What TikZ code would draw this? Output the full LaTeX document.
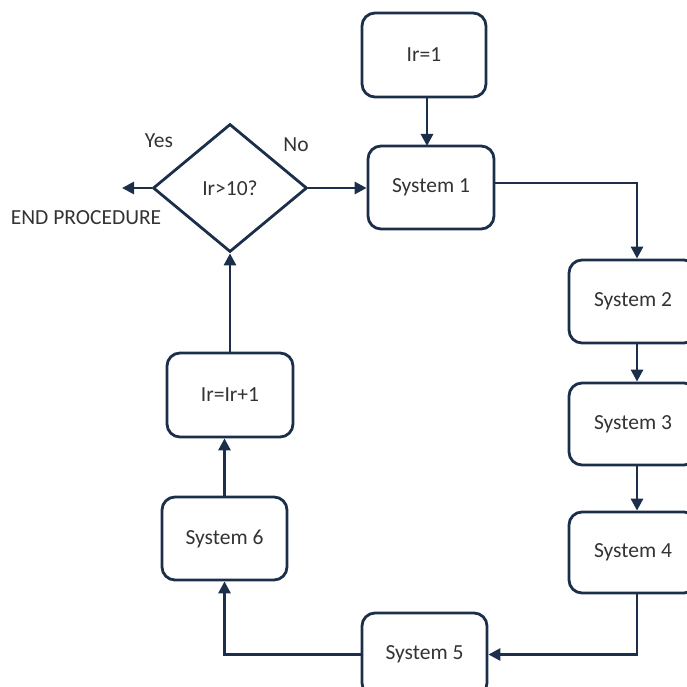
\documentclass[tikz,border=0pt]{standalone}
\usepackage{fontspec}
\setmainfont{Carlito}
\usetikzlibrary{shapes.geometric,arrows.meta}
\definecolor{navy}{HTML}{1B2F4B}
\definecolor{txt}{HTML}{333333}
\tikzset{
  boxnode/.style={draw=navy, line width=2.8pt, rounded corners=13pt, fill=white,
    minimum width=#1, minimum height=83pt, inner sep=0pt, text=txt, font=\fontsize{21.5}{25}\selectfont},
  boxnode/.default=126pt,
  decision/.style={draw=navy, line width=2.8pt, diamond, aspect=1.2, minimum width=154pt, minimum height=128pt,
    inner sep=0pt, text=txt, font=\fontsize{21.5}{25}\selectfont},
  lbl/.style={text=txt, font=\fontsize{21.5}{25}\selectfont, inner sep=0pt},
  conn/.style={draw=navy, line width=2.8pt, -{Triangle[length=12pt,width=12pt]}},
}
\begin{document}
\begin{tikzpicture}[x=1pt,y=-1pt]
\useasboundingbox (0,0) rectangle (686,687);
\node[boxnode=124pt, minimum height=84pt] (ir1) at (424,55) {Ir=1};
\node[boxnode] (s1) at (431,187.5) {System 1};
\node[boxnode=128pt] (s2) at (633,301.5) {System 2};
\node[boxnode=128pt, minimum height=82pt] (s3) at (633,424) {System 3};
\node[boxnode=128pt, minimum height=81pt] (s4) at (633,552.5) {System 4};
\node[boxnode=125pt] (s5) at (424.5,654.5) {System 5};
\node[boxnode=125pt] (s6) at (224.5,538.5) {System 6};
\node[boxnode, minimum height=84pt] (inc) at (230,395) {Ir=Ir+1};
\node[decision] (dia) at (230,188) {Ir>10?};
\coordinate (endp) at (122,188);
\node[lbl] (yes) at (159,141) {Yes};
\node[lbl] (no) at (296,145) {No};
\node[lbl] (endlbl) at (86,218) {END PROCEDURE};

\draw[conn] (ir1.south -| 427,0) -- (427,146);
\draw[conn] (s1.east |- 0,183) -- (637,183) -- (s2.north -| 637,0);
\draw[conn] (s2.south -| 637,0) -- (s3.north -| 637,0);
\draw[conn] (s3.south -| 637,0) -- (s4.north -| 637,0);
\draw[conn] (s4.south -| 637,0) |- (s5.east);
\draw[conn] (s5.west) -| (s6.south);
\draw[conn] (s6.north) -- (s6.north |- inc.south);
\draw[conn] (inc.north -| dia.south) -- (dia.south);
\draw[conn] (dia.west) -- (endp);
\draw[conn] (dia.east) -- (s1.west |- dia.east);
\end{tikzpicture}
\end{document}
